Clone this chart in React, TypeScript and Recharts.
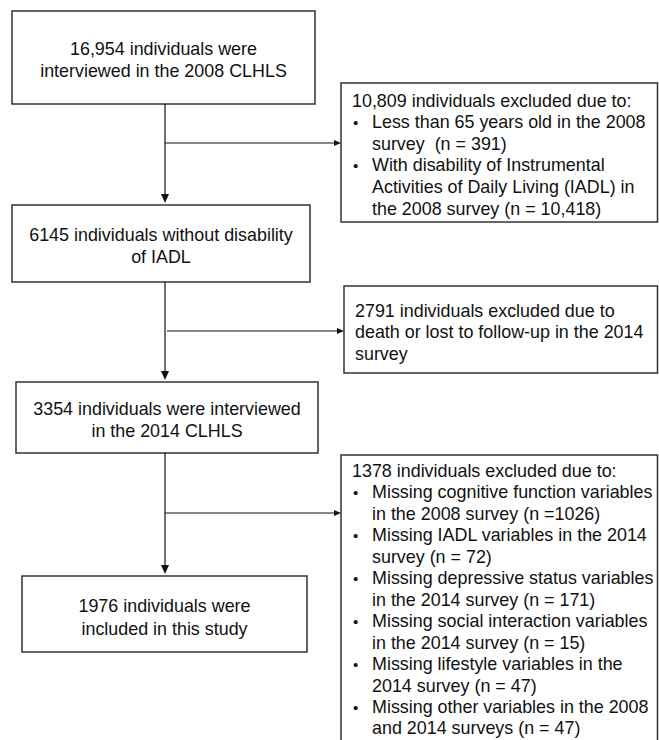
import React from "react";
import {
  ComposedChart,
  XAxis,
  YAxis,
  ReferenceArea,
  ReferenceLine,
  Scatter,
} from "recharts";

const W = 659;
const H = 740;

// box texts
const startLines = ["16,954 individuals were", "interviewed in the 2008 CLHLS"];
const iadlLines = ["6145 individuals without disability", "of IADL"];
const followLines = ["3354 individuals were interviewed", "in the 2014 CLHLS"];
const finalLines = ["1976 individuals were", "included in this study"];

const excl1Head = "10,809 individuals excluded due to:";
const excl1Bullets = [
  ["Less than 65 years old in the 2008", "survey  (n = 391)"],
  ["With disability of Instrumental", "Activities of Daily Living (IADL) in", "the 2008 survey (n = 10,418)"],
];
const excl2Lines = ["2791 individuals excluded due to", "death or lost to follow-up in the 2014", "survey"];
const excl3Head = "1378 individuals excluded due to:";
const excl3Bullets = [
  ["Missing cognitive function variables", "in the 2008 survey (n =1026)"],
  ["Missing IADL variables in the 2014", "survey (n = 72)"],
  ["Missing depressive status variables", "in the 2014 survey (n = 171)"],
  ["Missing social interaction variables", "in the 2014 survey (n = 15)"],
  ["Missing lifestyle variables in the", "2014 survey (n = 47)"],
  ["Missing other variables in the 2008", "and 2014 surveys (n = 47)"],
];

// connectors and arrow tips
const trunks = [
  { x: 165, y1: 104, y2: 198 },
  { x: 165, y1: 282, y2: 375 },
  { x: 165, y1: 453, y2: 569 },
];
const branches = [
  { y: 143, x1: 165, x2: 336 },
  { y: 331, x1: 167, x2: 339 },
  { y: 513, x1: 165, x2: 336 },
];
const downTips = [
  { x: 165, y: 203 },
  { x: 165, y: 380 },
  { x: 165, y: 574 },
];
const rightTips = [
  { x: 341, y: 143 },
  { x: 344, y: 331 },
  { x: 341, y: 513 },
];

const FONT = "Arial, 'Liberation Sans', Helvetica, sans-serif";
const FS = 17.9;

type Row = { text: string; bullet?: boolean; indent?: boolean };

const headRows = (head: string, bullets: string[][]): Row[] => [
  { text: head },
  ...bullets.flatMap((b) => b.map((t, i) => ({ text: t, bullet: i === 0, indent: true }))),
];

const centerLabel = (lines: string[], top: number, gap: number) => (props: any) => {
  const vb = props.viewBox || {};
  const cx = vb.x + vb.width / 2;
  return (
    <text fontFamily={FONT} fontSize={FS} fill="#111" textAnchor="middle">
      {lines.map((t, i) => (
        <tspan key={i} x={cx} y={vb.y + top + i * gap + 6.5}>
          {t}
        </tspan>
      ))}
    </text>
  );
};

const leftLabel = (rows: Row[], top: number, lh: number) => (props: any) => {
  const vb = props.viewBox || {};
  return (
    <g fontFamily={FONT} fontSize={FS} fill="#111">
      {rows.map((r, i) => {
        const y = vb.y + top + i * lh + 6.5;
        return (
          <g key={i}>
            {r.bullet && (
              <text x={vb.x + 12} y={y} fontSize={15}>
                •
              </text>
            )}
            <text x={vb.x + (r.indent ? 31 : 11)} y={y} style={{ whiteSpace: "pre" }}>
              {r.text}
            </text>
          </g>
        );
      })}
    </g>
  );
};

const boxStyle = {
  fill: "#ffffff",
  fillOpacity: 1,
  stroke: "#333333",
  strokeWidth: 1.5,
  isFront: false,
  ifOverflow: "visible" as const,
};

const DownArrow = (p: any) => (
  <polygon
    points={`${p.cx - 4},${p.cy - 9} ${p.cx + 4},${p.cy - 9} ${p.cx},${p.cy}`}
    fill="#111"
  />
);
const RightArrow = (p: any) => (
  <polygon
    points={`${p.cx - 7},${p.cy - 3} ${p.cx - 7},${p.cy + 3} ${p.cx},${p.cy}`}
    fill="#111"
  />
);

export default function App() {
  return (
    <div style={{ position: "absolute", left: 0, top: 0, background: "#fff" }}>
      <ComposedChart width={W} height={H} margin={{ top: 0, right: 0, bottom: 0, left: 0 }}>
        <XAxis type="number" dataKey="x" domain={[0, W]} hide />
        <YAxis type="number" dataKey="y" domain={[0, H]} reversed hide />

        {trunks.map((t, i) => (
          <ReferenceLine
            key={"t" + i}
            segment={[{ x: t.x, y: t.y1 }, { x: t.x, y: t.y2 }]}
            stroke="#111"
            strokeWidth={1.2}
            ifOverflow="visible"
          />
        ))}
        {branches.map((b, i) => (
          <ReferenceLine
            key={"b" + i}
            segment={[{ x: b.x1, y: b.y }, { x: b.x2, y: b.y }]}
            stroke="#111"
            strokeWidth={1.2}
            ifOverflow="visible"
          />
        ))}

        <ReferenceArea x1={12} x2={315} y1={11} y2={104} {...boxStyle}
          label={centerLabel(startLines, 37, 22)} />
        <ReferenceArea x1={12} x2={310} y1={205} y2={282} {...boxStyle}
          label={centerLabel(iadlLines, 29, 22.5)} />
        <ReferenceArea x1={16} x2={318} y1={382} y2={453} {...boxStyle}
          label={centerLabel(followLines, 26, 22)} />
        <ReferenceArea x1={22} x2={307} y1={576} y2={652} {...boxStyle}
          label={centerLabel(finalLines, 29, 23)} />

        <ReferenceArea x1={341} x2={657.5} y1={83} y2={222} {...boxStyle}
          label={leftLabel(headRows(excl1Head, excl1Bullets), 17, 21.6)} />
        <ReferenceArea x1={344} x2={657.5} y1={286} y2={373} {...boxStyle}
          label={leftLabel(excl2Lines.map((t) => ({ text: t })), 24, 21.6)} />
        <ReferenceArea x1={341} x2={657.5} y1={455} y2={760} {...boxStyle}
          label={leftLabel(headRows(excl3Head, excl3Bullets), 15.5, 21.45)} />

        <Scatter data={downTips} dataKey="y" shape={DownArrow} isAnimationActive={false} />
        <Scatter data={rightTips} dataKey="y" shape={RightArrow} isAnimationActive={false} />
      </ComposedChart>
    </div>
  );
}
